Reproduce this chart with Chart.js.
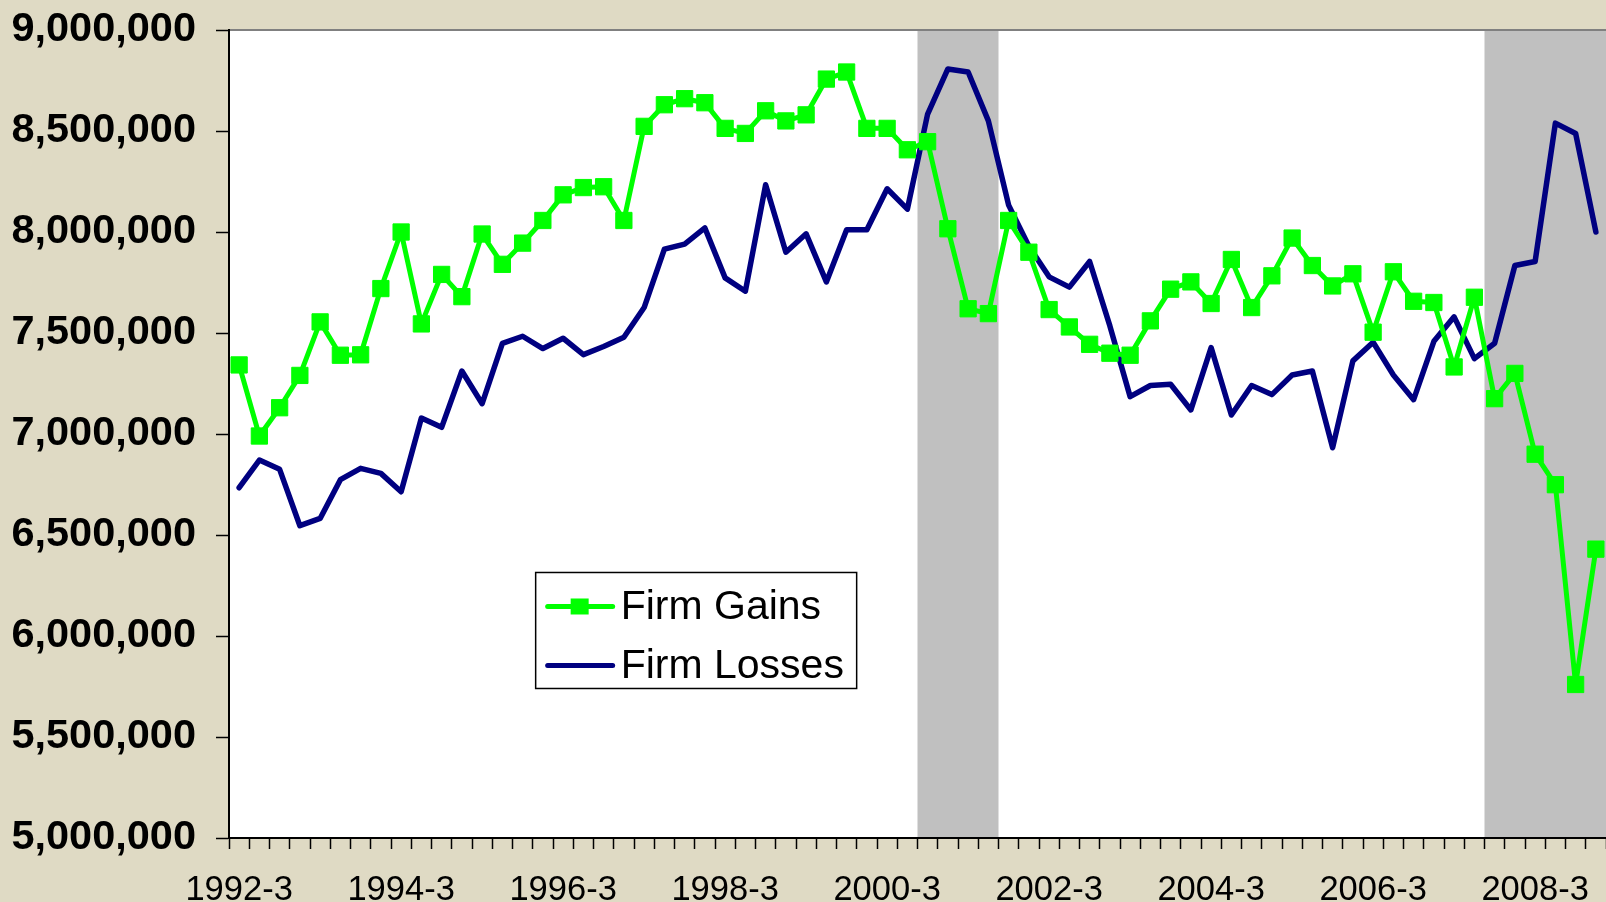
<!DOCTYPE html>
<html>
<head>
<meta charset="utf-8">
<title>Firm Gains and Losses</title>
<script src="https://cdn.jsdelivr.net/npm/chart.js@4.4.1/dist/chart.umd.min.js"></script>
<style>
    html, body { margin: 0; padding: 0; background: #dfdac4; }
    #wrap { width: 1606px; height: 902px; }
</style>
</head>
<body>
<div id="wrap"><canvas id="firmChart" width="1606" height="902"></canvas></div>
<script>
const quarters = [
    '1992-3', '1992-4', '1993-1', '1993-2', '1993-3', '1993-4', '1994-1', '1994-2',
    '1994-3', '1994-4', '1995-1', '1995-2', '1995-3', '1995-4', '1996-1', '1996-2',
    '1996-3', '1996-4', '1997-1', '1997-2', '1997-3', '1997-4', '1998-1', '1998-2',
    '1998-3', '1998-4', '1999-1', '1999-2', '1999-3', '1999-4', '2000-1', '2000-2',
    '2000-3', '2000-4', '2001-1', '2001-2', '2001-3', '2001-4', '2002-1', '2002-2',
    '2002-3', '2002-4', '2003-1', '2003-2', '2003-3', '2003-4', '2004-1', '2004-2',
    '2004-3', '2004-4', '2005-1', '2005-2', '2005-3', '2005-4', '2006-1', '2006-2',
    '2006-3', '2006-4', '2007-1', '2007-2', '2007-3', '2007-4', '2008-1', '2008-2',
    '2008-3', '2008-4', '2009-1', '2009-2'
];

const firmGains = [
    7342000, 6990000, 7130000, 7290000, 7555000, 7390000, 7392000, 7720000,
    8000000, 7545000, 7790000, 7680000, 7990000, 7840000, 7945000, 8057000,
    8184000, 8220000, 8224000, 8057000, 8523000, 8630000, 8660000, 8640000,
    8513000, 8488000, 8600000, 8550000, 8580000, 8757000, 8792000, 8513000,
    8513000, 8407000, 8447000, 8016000, 7620000, 7596000, 8057000, 7900000,
    7616000, 7530000, 7444000, 7400000, 7390000, 7560000, 7717000, 7753000,
    7646000, 7864000, 7626000, 7783000, 7970000, 7834000, 7733000, 7793000,
    7504000, 7803000, 7657000, 7651000, 7332000, 7677000, 7175000, 7300000,
    6900000, 6749000, 5760000, 6430000
];

const firmLosses = [
    6734000, 6871000, 6825000, 6546000, 6582000, 6774000, 6830000, 6805000,
    6714000, 7079000, 7033000, 7312000, 7150000, 7449000, 7484000, 7423000,
    7474000, 7393000, 7433000, 7479000, 7626000, 7915000, 7940000, 8020000,
    7773000, 7707000, 8234000, 7900000, 7991000, 7753000, 8011000, 8011000,
    8214000, 8113000, 8584000, 8807000, 8792000, 8550000, 8133000, 7930000,
    7778000, 7727000, 7854000, 7535000, 7185000, 7240000, 7246000, 7119000,
    7428000, 7094000, 7240000, 7195000, 7292000, 7312000, 6932000, 7362000,
    7454000, 7292000, 7170000, 7459000, 7580000, 7373000, 7449000, 7834000,
    7854000, 8539000, 8488000, 8000000
];

// shaded recession quarters (first, last)
const recessions = [['2001-1', '2001-4'], ['2008-1', '2009-2']];

const yMin = 5000000;
const yMax = 9000000;
const yStep = 500000;

const FONT = '"Liberation Sans", Arial, sans-serif';

// white plot area, grey top edge and recession bands
const plotBackground = {
    id: 'plotBackground',
    beforeDraw(chart) {
        const { ctx, chartArea: a, scales: { x } } = chart;
        ctx.save();
        ctx.fillStyle = '#ffffff';
        ctx.fillRect(a.left, a.top, a.right - a.left, a.bottom - a.top);
        const half = (x.getPixelForValue(1) - x.getPixelForValue(0)) / 2;
        ctx.fillStyle = '#c0c0c0';
        recessions.forEach(r => {
            const x0 = x.getPixelForValue(quarters.indexOf(r[0])) - half;
            const x1 = Math.min(x.getPixelForValue(quarters.indexOf(r[1])) + half, a.right);
            ctx.fillRect(x0, a.top, x1 - x0, a.bottom - a.top);
        });
        ctx.strokeStyle = '#808080';
        ctx.lineWidth = 2;
        ctx.beginPath();
        ctx.moveTo(a.left, a.top);
        ctx.lineTo(a.right, a.top);
        ctx.stroke();
        ctx.restore();
    }
};

// boxed legend sitting inside the plot
const boxLegend = {
    id: 'boxLegend',
    afterDatasetsDraw(chart) {
        const { ctx, chartArea: a } = chart;
        const w = a.right - a.left;
        const h = a.bottom - a.top;
        const bx = a.left + w * 0.2227;
        const by = a.top + h * 0.6714;
        const bw = 321;
        const bh = 116;
        ctx.save();
        ctx.fillStyle = '#ffffff';
        ctx.fillRect(bx, by, bw, bh);
        ctx.strokeStyle = '#000000';
        ctx.lineWidth = 1.5;
        ctx.strokeRect(bx, by, bw, bh);
        ctx.font = '41px ' + FONT;
        ctx.textBaseline = 'middle';
        chart.data.datasets.forEach((ds, i) => {
            const cy = by + 34 + i * 59;
            ctx.strokeStyle = ds.borderColor;
            ctx.lineWidth = 5;
            ctx.lineCap = 'round';
            ctx.beginPath();
            ctx.moveTo(bx + 12, cy);
            ctx.lineTo(bx + 77, cy);
            ctx.stroke();
            if (ds.pointRadius > 0) {
                ctx.fillStyle = ds.borderColor;
                ctx.fillRect(bx + 35, cy - 8, 18, 16);
            }
            ctx.fillStyle = '#000000';
            ctx.fillText(ds.label, bx + 85, cy + 1);
        });
        ctx.restore();
    }
};

const ctx = document.getElementById('firmChart').getContext('2d');
new Chart(ctx, {
    type: 'line',
    data: {
        labels: quarters,
        datasets: [
            {
                label: 'Firm Gains',
                data: firmGains,
                borderColor: '#00ff00',
                backgroundColor: '#00ff00',
                borderWidth: 5,
                pointStyle: 'rect',
                pointRadius: 11.5,
                pointBorderWidth: 1,
                pointBackgroundColor: '#00ff00',
                pointBorderColor: '#00ff00',
                tension: 0,
                borderJoinStyle: 'round'
            },
            {
                label: 'Firm Losses',
                data: firmLosses,
                borderColor: '#000080',
                backgroundColor: '#000080',
                borderWidth: 5.5,
                pointRadius: 0,
                tension: 0,
                borderCapStyle: 'round',
                borderJoinStyle: 'round'
            }
        ]
    },
    options: {
        responsive: false,
        animation: false,
        events: [],
        clip: false,
        layout: { autoPadding: false, padding: { top: 30, right: 0, left: 0, bottom: 0 } },
        plugins: {
            legend: { display: false },
            tooltip: { enabled: false }
        },
        scales: {
            x: {
                offset: true,
                grid: {
                    offset: true,
                    drawOnChartArea: false,
                    drawTicks: true,
                    tickLength: 11,
                    tickColor: '#000000',
                    tickWidth: 1.5
                },
                border: { color: '#000000', width: 2 },
                ticks: {
                    autoSkip: false,
                    maxRotation: 0,
                    minRotation: 0,
                    color: '#000000',
                    padding: 0,
                    // tall line box pushes the labels down without adding side padding
                    font: { family: FONT, size: 34.5, lineHeight: 2.42 },
                    callback: (v, i) => (i % 8 === 0 ? quarters[i] : '')
                },
                afterFit(scale) {
                    scale.height = 64;
                    scale.paddingLeft = 0;
                    scale.paddingRight = 0;
                }
            },
            y: {
                min: yMin,
                max: yMax,
                grid: {
                    drawOnChartArea: false,
                    drawTicks: true,
                    tickLength: 13,
                    tickColor: '#000000',
                    tickWidth: 1.5
                },
                border: { color: '#000000', width: 2 },
                ticks: {
                    stepSize: yStep,
                    color: '#000000',
                    padding: 20,
                    font: { family: FONT, size: 41.5, weight: 'bold' },
                    callback: v => v.toLocaleString('en-US')
                },
                afterFit(scale) {
                    scale.width = 229;
                    scale.paddingTop = 0;
                    scale.paddingBottom = 0;
                }
            }
        }
    },
    plugins: [plotBackground, boxLegend]
});
</script>
</body>
</html>
